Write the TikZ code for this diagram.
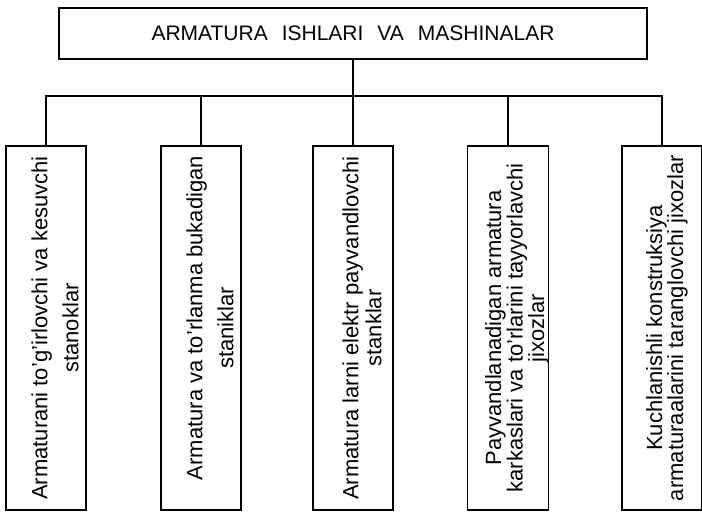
\documentclass[tikz,border=0pt]{standalone}
\usepackage{fontspec}
\setmainfont{Liberation Sans}
\newcommand\titlefont{\fontsize{21}{25}\selectfont\spaceskip=14pt plus 2pt\relax}
\newcommand\lift{\rule{0pt}{34pt}}

\begin{document}
\begin{tikzpicture}[x=1pt, y=1pt, line width=1.2pt,
    every node/.style={draw, align=center, inner sep=0pt},
    title/.style={minimum width=588pt, minimum height=51pt, font=\titlefont},
    group/.style={rotate=90, minimum width=364pt, minimum height=80pt,
      font=\fontsize{22}{#1}\selectfont},
    group/.default=31,
    ]
  \useasboundingbox (0,0) rectangle (702,512);
  \node[title] (armatura) at (353,478.5) {ARMATURA ISHLARI VA MASHINALAR};

  \node[group] (b1) at (46,184) {\lift Armaturani to'g'irlovchi va kesuvchi\\stanoklar};
  \node[group] (b2) at (201,184) {\lift\hspace*{20pt}Armatura va to'rlanma bukadigan\\staniklar};
  \node[group=23] (b3) at (353,184) {\lift Armatura larni elektr payvandlovchi\\stanklar};
  \node[group=19] (b4) at (508,184) {\lift Payvandlanadigan armatura\\karkaslari va to'rlarini tayyorlavchi\\jixozlar};
  \node[group=21] (b5) at (662,184) {\rule{0pt}{26pt}Kuchlanishli konstruksiya\\armaturaalarini taranglovchi jixozlar};

  \coordinate (bus) at (353,416);
  \draw (armatura.south) -- (b3.east);
  \draw (b1.east) |- (bus) -| (b5.east);
  \draw (b2.east) -- (b2.east |- bus);
  \draw (b4.east) -- (b4.east |- bus);
\end{tikzpicture}
\end{document}
